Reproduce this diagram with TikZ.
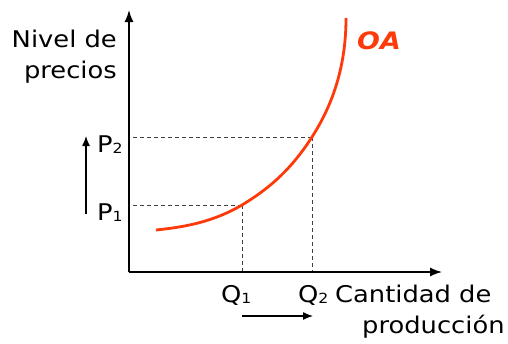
\documentclass[tikz,border=0pt]{standalone}
\usepackage{fontspec}
\setmainfont[FakeStretch=1.12]{DejaVu Sans}
\usepackage{tikz}
\usetikzlibrary{calc,arrows.meta,positioning}
\definecolor{oared}{HTML}{FF3A0A}
\newcommand{\lowidx}[1]{\raisebox{-1.5pt}{\fontsize{14}{14}\selectfont #1}}

\begin{document}
\begin{tikzpicture}[x=1pt, y=-1pt, font=\fontsize{23}{27}\selectfont,
    axis/.style={line width=1.4pt, -{Latex[length=12pt,width=9pt]}},
    move/.style={line width=1.3pt, -{Latex[length=10pt,width=8pt]}},
    guide/.style={line width=0.8pt, dash pattern=on 4pt off 3pt, black!75},
    label/.style={inner sep=0pt, anchor=base west}]
   \useasboundingbox (0,0) rectangle (508,343);
   \coordinate (O) at (129,272);
   \coordinate (ytip) at (129,10);
   \coordinate (xtip) at (442,272);
   \coordinate (s0) at (156,230);
   \coordinate (e1) at (242,205);
   \coordinate (e2) at (312,137);
   \coordinate (s9) at (346,18);
   \coordinate (up0) at (86,214);
   \coordinate (up1) at (86,136);
   \coordinate (rt0) at (242,316);
   \coordinate (rt1) at (313,316);

   \node[inner sep=0pt, anchor=base east] (nivel) at (117,47) {Nivel de};
   \node[inner sep=0pt, anchor=base east] (precios) at (117,78) {precios};
   \node[label] (p2) at (97,152) {P\lowidx{2}};
   \node[label] (p1) at (97,220) {P\lowidx{1}};
   \node[label] (q1) at (221,302) {Q\lowidx{1}};
   \node[label] (q2) at (298,302) {Q\lowidx{2}};
   \node[label] (cant) at (335,302) {Cantidad de};
   \node[label] (prod) at (362,333) {producción};
   \node[label, text=oared, font=\fontsize{24}{28}\selectfont\bfseries\itshape] (oa) at (357,49) {OA};

  \path[guide]
    (e1) edge (e1 -| O)
         edge (e1 |- O)
    (e2) edge (e2 -| O)
         edge (e2 |- O);
  \path[axis]
    (O) edge (ytip)
        edge (xtip);
  \path[move]
    (up0) edge (up1)
    (rt0) edge (rt1);

  \draw[oared, line width=2.8pt]
    (s0) .. controls (185,227) and (213,222) .. (e1)
         .. controls (265,191) and (289,173) .. (e2)
         .. controls (337,98) and (346,58) .. (s9);
  \end{tikzpicture}
\end{document}
